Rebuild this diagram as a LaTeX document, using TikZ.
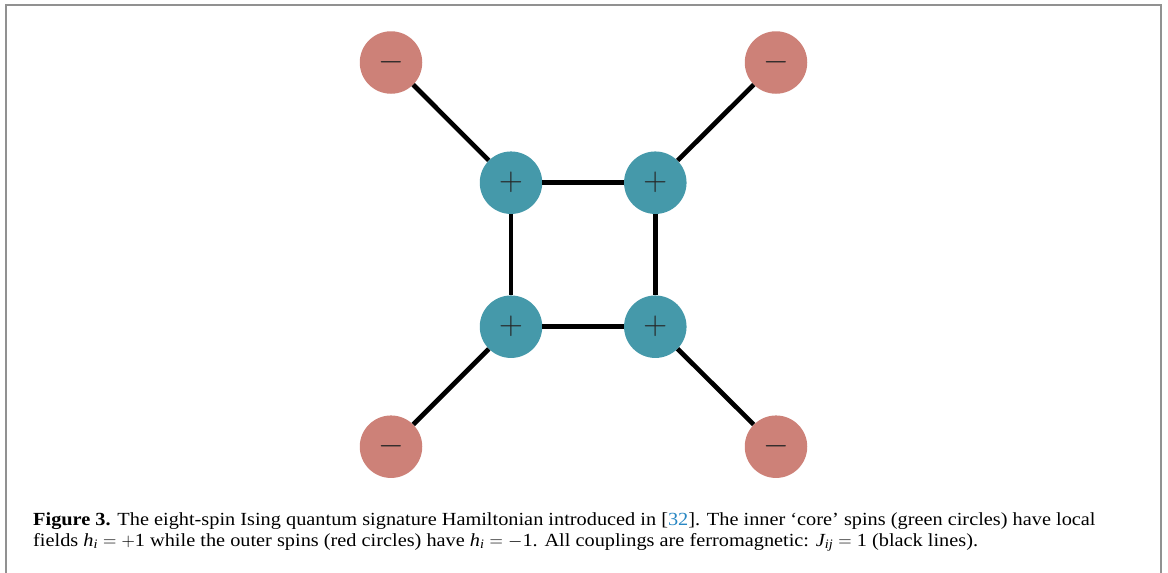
\RequirePackage{fix-cm}
\documentclass[tikz,border=0pt]{standalone}
\usepackage{amsmath}
\usepackage{fontspec}
\setmainfont[FakeStretch=1.098]{Liberation Serif}
\definecolor{spinred}{RGB}{205,129,120}
\definecolor{spinteal}{RGB}{69,153,170}
\definecolor{framegray}{RGB}{145,145,145}
\definecolor{citeblue}{RGB}{40,135,195}
\begin{document}
\begin{tikzpicture}[x=1pt,y=-1pt,
  spin/.style={circle, inner sep=0pt, minimum size=62.5pt, text=black!85,
    font=\fontsize{33}{33}\selectfont},
  core/.style={spin, fill=spinteal},
  outer/.style={spin, fill=spinred},
  coupling/.style={line width=4.7pt, black},
  frame/.style={line width=1.8pt, framegray},
  caption/.style={anchor=base west, inner sep=0pt, font=\fontsize{18.5}{20}\selectfont}]
\useasboundingbox (0,0) rectangle (1168,573);
\draw[frame] (6.3,573) -- (6.3,5.2) -- (1161,5.2) -- (1161,573);
% core spins
\node[core] (c1) at (511,182.7) {$+$};
\node[core] (c2) at (655.3,182.7) {$+$};
\node[core] (c3) at (511,326.7) {$+$};
\node[core] (c4) at (655.3,326.7) {$+$};
% outer spins
\node[outer] (o1) at (391,62.5) {$-$};
\node[outer] (o2) at (776,62.5) {$-$};
\node[outer] (o3) at (391,446.7) {$-$};
\node[outer] (o4) at (776,446.7) {$-$};
% couplings
\draw[coupling] (c1) -- (c2);
\draw[coupling] (c3) -- (c4);
\draw[coupling] (c1) -- (c3);
\draw[coupling] (c2) -- (c4);
\draw[coupling] (o1) -- (c1);
\draw[coupling] (o2) -- (c2);
\draw[coupling] (o3) -- (c3);
\draw[coupling] (o4) -- (c4);
% caption
\node[caption] (cap1) at (33,525.5) {\textbf{Figure 3.} The eight-spin Ising quantum signature Hamiltonian introduced in [\textcolor{citeblue}{32}]. The inner ‘core’ spins (green circles) have local};
\node[caption] (cap2) at (33,546) {fields $\textit{h}_{\textit{i}} = +\mbox{1}$ while the outer spins (red circles) have $\textit{h}_{\textit{i}} = -\mbox{1}$. All couplings are ferromagnetic: $\textit{J}_{\textit{ij}} = \mbox{1}$ (black lines).};
\end{tikzpicture}
\end{document}
